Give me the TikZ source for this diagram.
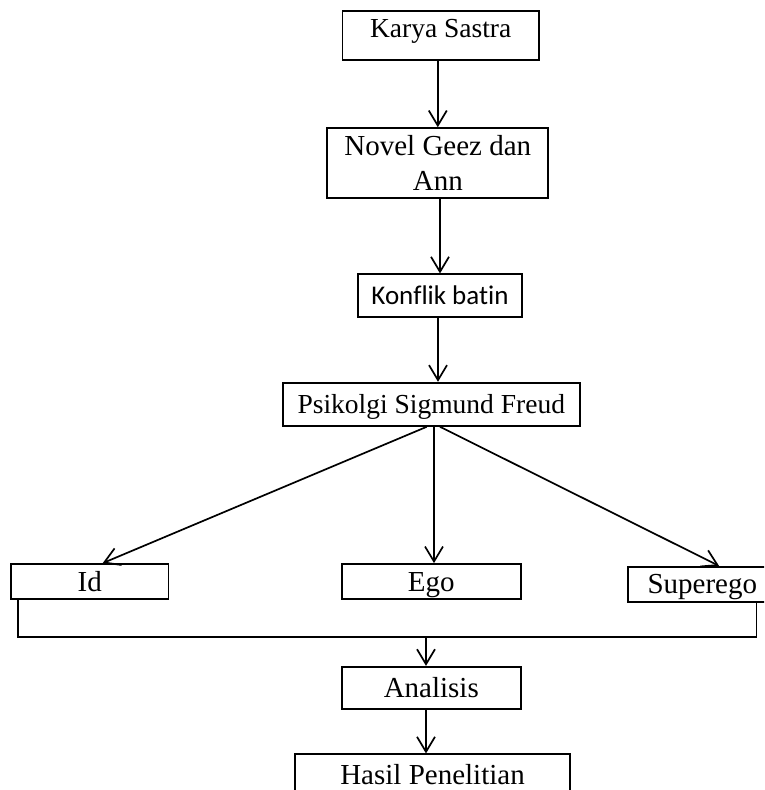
\documentclass[tikz,border=0pt]{standalone}
\usepackage{fontspec}
\setmainfont{Liberation Serif}
\newfontfamily\calibrifont[Ligatures=NoCommon]{Carlito}
\usetikzlibrary{arrows.meta}

\begin{document}
\begin{tikzpicture}[x=1pt,y=-1pt,
    box/.style={draw, line width=1.7pt, inner sep=0pt, font=\fontsize{29}{35.4}\selectfont},
    captext/.style={text height=#1, text depth=0pt},
    captext/.default=19.2pt,
    arr/.style={line width=1.7pt, -{Straight Barb[length=15pt,width=18pt,line width=1.7pt]}},
    joinline/.style={line width=1.7pt}]

    \useasboundingbox (0,0) rectangle (764,790);
    \clip (0,0) rectangle (764,790);

    % boxes
    \node[box, anchor=north, font=\fontsize{27.5}{33}\selectfont, minimum width=196.7pt,
          text height=26.7pt, text depth=22.6pt] (karya) at (440.7,10) {Karya Sastra};
    \node[box, align=center, minimum width=221pt, minimum height=69.7pt] (novel) at (437.8,162.9) {Novel Geez dan\\Ann};
    \node[box, captext=17.4pt, font=\calibrifont\fontsize{27}{32}\selectfont, minimum width=164.6pt, minimum height=42.4pt] (konflik) at (440,295.5) {Konflik batin};
    \node[box, captext=18.2pt, font=\fontsize{27.5}{33}\selectfont, minimum width=297.3pt, minimum height=43.3pt] (psikolgi) at (431.3,404.3) {Psikolgi Sigmund Freud};
    \node[box, captext, minimum width=157.3pt, minimum height=35pt] (id) at (89.7,581.5) {Id};
    \node[box, captext, minimum width=179.3pt, minimum height=35pt] (ego) at (431.3,581.5) {Ego};
    \node[box, captext, minimum width=148pt, minimum height=35pt] (superego) at (702.3,584.2) {Superego};
    \node[box, captext, minimum width=179.3pt, minimum height=42.6pt] (analisis) at (431.3,688) {Analisis};
    \node[box, captext, minimum width=275pt, minimum height=42pt] (hasil) at (432.5,775.3) {Hasil Penelitian};

    % arrows
    \draw[arr] (karya.south -| novel.north) -- (novel.north);
    \draw[arr] (novel.south -| konflik.north) -- (konflik.north);
    \draw[arr] ([xshift=-2pt]konflik.south) -- ([xshift=-2pt]konflik.south |- psikolgi.north);
    \draw[arr] ([xshift=-4.6pt]psikolgi.south) -- ([xshift=13pt]id.north);
    \draw[arr] ([xshift=2.7pt]psikolgi.south) -- ([xshift=2.7pt]ego.north);
    \draw[arr] ([xshift=8.7pt]psikolgi.south) -- ([xshift=16.7pt]superego.north);

    \coordinate (join) at (426,637.3);
    \draw[joinline] ([xshift=8pt]id.south west) |- ([xshift=-20.6pt]superego.south east |- join)
        -- ([xshift=-20.6pt]superego.south east);
    \draw[arr] (join) -- (join |- analisis.north);
    \draw[arr] (analisis.south -| join) -- (hasil.north -| join);

\end{tikzpicture}
\end{document}
